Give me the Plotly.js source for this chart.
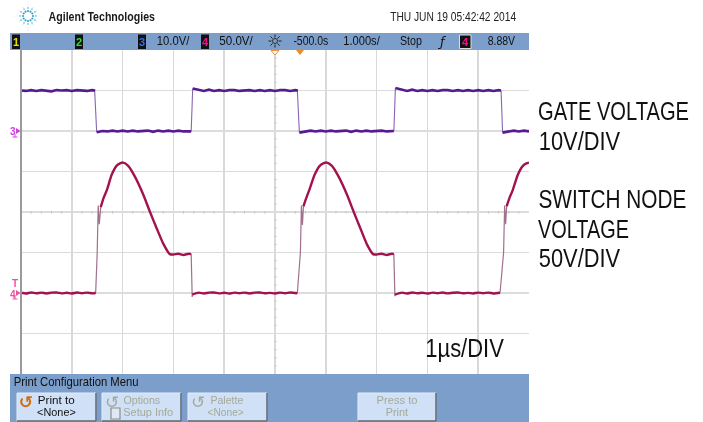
<!DOCTYPE html>
<html><head><meta charset="utf-8">
<script src="https://cdn.plot.ly/plotly-3.0.1.min.js"></script>
<style>html,body{margin:0;padding:0;background:#fff;overflow:hidden}#chart{filter:blur(.35px)}</style></head>
<body><div id="chart" style="width:703px;height:422px"></div>
<script>
// Time in microseconds, volts
const gateLevelTime = [0,.1,.2,.3,.4,.5,.6,.7,.8,.9,1,1.1,1.2,1.3,1.4,1.46,null,1.49,1.6,1.7,1.8,1.9,2,2.1,2.2,2.3,2.4,2.5,2.6,2.7,2.8,2.9,3,3.1,3.2,3.3,3.35,null,3.38,3.5,3.6,3.7,3.8,3.9,4,4.1,4.2,4.3,4.4,4.5,4.6,4.7,4.8,4.9,5,5.1,5.2,5.3,5.4,5.45,null,5.48,5.6,5.7,5.8,5.9,6,6.1,6.2,6.3,6.4,6.5,6.6,6.7,6.8,6.9,7,7.1,7.2,7.3,7.34,null,7.37,7.5,7.6,7.7,7.8,7.9,8,8.1,8.2,8.3,8.4,8.5,8.6,8.7,8.8,8.9,9,9.1,9.2,9.3,9.4,9.45,null,9.48,9.6,9.7,9.8,9.9,10];
const gateLevelVolts = [10,9.9,10.1,9.9,10.1,10,9.8,10.1,10,10.1,9.9,10.1,10,9.9,10.1,10,null,-0.3,0,-0.1,0.1,-0.1,0.1,-0.1,0.1,-0.1,0,0.1,-0.2,0.1,-0.1,0.1,-0.1,0.1,-0.1,0,-0.1,null,10.5,10.1,9.9,10.2,9.9,10.1,9.9,10.1,10.1,9.9,10,10.1,9.9,10.1,9.9,10.1,9.9,10.1,10.1,9.9,10.1,10,null,-0.4,-0.1,0.1,-0.1,0.1,-0.1,0.1,-0.1,0,0.1,-0.2,0.1,-0.1,0.1,-0.1,0,0.1,-0.1,0.1,0,null,10.6,10.1,9.9,10.2,9.9,10.1,9.9,10.1,9.9,10.1,10.1,9.9,10.1,9.9,10.1,9.9,10.1,9.9,10.1,9.9,10.1,10,null,-0.4,-0.1,0.1,-0.1,0.1,-0.1];
const gateEdgeTime = [1.45,1.49,null,3.35,3.38,null,5.44,5.48,null,7.34,7.37,null,9.45,9.48];
const gateEdgeVolts = [10,-0.3,null,-0.1,10.5,null,10,-0.4,null,0,10.6,null,10,-0.4];
const switchBodyTime = [0,.1,.2,.3,.4,.5,.6,.7,.8,.9,1,1.1,1.2,1.3,1.42,1.47,null,1.57,1.63,1.69,1.785,1.88,1.95,2.01,2.11,2.24,2.41,2.54,2.67,2.8,2.93,3,3.1,3.2,3.3,3.35,null,3.37,3.5,3.6,3.7,3.8,3.9,4,4.1,4.2,4.3,4.4,4.5,4.6,4.7,4.8,4.9,5,5.1,5.2,5.3,5.44,null,5.56,5.62,5.68,5.78,5.88,5.95,6.02,6.12,6.25,6.42,6.55,6.68,6.81,6.93,7,7.1,7.2,7.3,7.34,null,7.36,7.5,7.6,7.7,7.8,7.9,8,8.1,8.2,8.3,8.4,8.5,8.6,8.7,8.8,8.9,9,9.1,9.2,9.3,9.43,null,9.56,9.62,9.68,9.78,9.88,9.95,10];
const switchBodyVolts = [0.3,-0.6,0.7,-0.4,0.5,-0.6,0.4,0.6,-0.5,0.3,-0.7,0.6,-0.3,0.5,-0.5,0.3,null,106,118,127,146,157,160,161,157,144,121,100,80,61,48,47.5,48.5,47,48.5,48,null,-2,0.5,-0.6,0.4,0.6,-0.5,0.3,-0.7,0.5,-0.3,0.5,-0.6,0.4,0.6,-0.4,0.2,-0.6,0.5,-0.3,0.6,-0.3,null,107,118,128,146,157,160,161,157,144,121,100,80,60,48,47.5,48.5,47,48.5,48,null,-2,0.5,-0.6,0.6,-0.4,0.3,-0.7,0.5,-0.3,0.6,-0.5,0.3,0.6,-0.4,0.2,-0.6,0.5,-0.3,0.5,-0.6,0.3,null,107,118,127,146,157,160,161];
const switchEdgeTime = [1.47,1.5,1.52,1.54,1.57,null,3.35,3.37,null,5.44,5.5,5.52,5.54,5.56,null,7.34,7.36,null,9.43,9.5,9.52,9.54,9.56];
const switchEdgeVolts = [0.3,50,108,85,106,null,48,-5,null,-0.3,50,108,84,107,null,48,-4,null,0.3,50,108,85,107];
const headerChannels = ["1","2","3","4"];
const channelColours = ["#e8e000","#30e030","#3070f0","#f0108c"];

const W=703,H=422,L=21,R=529,T=50,B=374;
const X=p=>(p-L)/(R-L), Y=p=>(B-p)/(B-T);
const sans='"Liberation Sans", Arial, sans-serif';
const shapes=[], annotations=[], squeezed={};
function rect(x0,y0,x1,y1,fill,line,lw){shapes.push({type:'rect',xref:'paper',yref:'paper',x0:X(x0),x1:X(x1),y0:Y(y1),y1:Y(y0),fillcolor:fill,line:{color:line||fill,width:lw===undefined?0:lw},layer:'above'});}
function seg(x0,y0,x1,y1,c,w){shapes.push({type:'line',xref:'paper',yref:'paper',x0:X(x0),x1:X(x1),y0:Y(y0),y1:Y(y1),line:{color:c,width:w}});}
// text spanning pixels x0..x1: centred, then fitted to its width after drawing
function span(s,x0,x1,y,o){o=o||{};squeezed[s]=x1-x0;annotations.push({text:o.b?'<b>'+s+'</b>':s,xref:'paper',yref:'paper',x:X((x0+x1)/2),y:Y(y),showarrow:false,xanchor:'center',yanchor:'middle',align:'center',borderpad:0,font:{family:sans,size:o.s||12,color:o.c||'#111'}});}
function glyph(s,x,y,o){annotations.push({text:s,xref:'paper',yref:'paper',x:X(x),y:Y(y),showarrow:false,xanchor:'center',yanchor:'middle',borderpad:0,font:{family:o.f||sans,size:o.s||11,color:o.c}});}

rect(10,33,R,50,'#7b9ecb');
rect(10,374,R,422,'#7b9ecb');
seg(L,50,L,374,'#9a9a9a',2);
for(let i=1;i<50;i++) if(i%5) seg(L+i*10.16,211,L+i*10.16,213.5,'#c4c4c4',1);
for(let i=1;i<40;i++) if(i%5) seg(274,T+i*8.1,276.5,T+i*8.1,'#c4c4c4',1);

// logo
for(let k=0;k<12;k++){const a=k*Math.PI/6,long=k%3===0;
 for(const r of long?[5,8,11,14]:[5,8,10]){const d=(r<7?1.1:r<10?.9:.55);const x=28+r*Math.cos(a),y=16+r*Math.sin(a);
  shapes.push({type:'circle',xref:'paper',yref:'paper',x0:X(x-d),x1:X(x+d),y0:Y(y+d),y1:Y(y-d),fillcolor:r<7?'#3aa6cc':r<10?'#7cc6e0':'#bfe3ef',line:{width:0}});}}
span('Agilent Technologies',48.5,155,17,{b:1,s:12.5,c:'#1a1a1a'});
span('THU JUN 19 05:42:42 2014',390,516,17,{s:12.5,c:'#222'});

[12,75,138,201].forEach((x,i)=>{rect(x,34.5,x+8,49,'#111');glyph('<b>'+headerChannels[i]+'</b>',x+4,42,{s:11,c:channelColours[i]});});
span('10.0V/',157,190,41,{s:12.5});
span('50.0V/',219,253,41,{s:12.5});
span('-500.0s',293,328,41,{s:12.5});
span('1.000s/',343,380,41,{s:12.5});
span('Stop',400,422,41,{s:12.5});
glyph('<i>ƒ</i>',442,41,{s:13,c:'#111',f:'"DejaVu Sans"'});
rect(459.5,35,471,48.5,'#111','#ddd',1);
glyph('<b>4</b>',465.2,42,{s:11,c:channelColours[3]});
span('8.88V',487,515,41,{s:12.5});
for(let k=0;k<8;k++){const a=k*Math.PI/4;seg(275+3.5*Math.cos(a),41+3.5*Math.sin(a),275+6.5*Math.cos(a),41+6.5*Math.sin(a),'#222',1);}
shapes.push({type:'circle',xref:'paper',yref:'paper',x0:X(272.5),x1:X(277.5),y0:Y(43.5),y1:Y(38.5),line:{color:'#333',width:1}});
shapes.push({type:'path',xref:'paper',yref:'paper',path:`M${X(271)},${Y(50.5)} L${X(279)},${Y(50.5)} L${X(275)},${Y(55)} Z`,fillcolor:'#fff',line:{color:'#ee9040',width:1}});
shapes.push({type:'path',xref:'paper',yref:'paper',path:`M${X(296)},${Y(50)} L${X(304)},${Y(50)} L${X(300)},${Y(55)} Z`,fillcolor:'#ee8a20',line:{width:0}});

glyph('<b>3</b>',13,131,{s:10,c:'#d040e0'});
shapes.push({type:'path',xref:'paper',yref:'paper',path:`M${X(16)},${Y(128)} L${X(20.5)},${Y(131)} L${X(16)},${Y(134)} Z`,fillcolor:'#d040e0',line:{width:0}});
seg(15,134,15,137,'#d040e0',1);seg(12.5,137,17.5,137,'#d040e0',1);
glyph('<b>T</b>',15,283,{s:10,c:'#f050a0'});
glyph('<b>4</b>',13,294,{s:10,c:'#f050a0'});
shapes.push({type:'path',xref:'paper',yref:'paper',path:`M${X(16)},${Y(290)} L${X(20.5)},${Y(293)} L${X(16)},${Y(296)} Z`,fillcolor:'#f050a0',line:{width:0}});
seg(15,296,15,299,'#f050a0',1);seg(12.5,299,17.5,299,'#f050a0',1);

span('GATE VOLTAGE',538,689,111,{s:26});
span('10V/DIV',538,620,141,{s:26});
span('SWITCH NODE',538,686,199,{s:26});
span('VOLTAGE',538,629,229,{s:26});
span('50V/DIV',538,620,258,{s:26});
span('1µs/DIV',425,504,348,{s:26});

// menu
span('Print Configuration Menu',13,138,382,{s:12.5});
const off='#a5aa96';
[[17,96],[102,181],[188,267],[358,436]].forEach((b,i)=>{
 rect(b[0],393,b[1],421,'#cfe0f7','#e6eefb',1);
 seg(b[0],421,b[1],421,'#5b6470',1.5);seg(b[1],393,b[1],421,'#5b6470',1.5);
 if(i<3) glyph(i===0?'<b>↺</b>':'↺',b[0]+(i===0?9:10),402,{s:17,f:'"DejaVu Sans"',c:i===0?'#d86a00':off});
});
span('Print to',37,74,400,{s:11.5});
span('<None>',37,76,412,{s:11.5});
span('Options',123,160,400,{s:11.5,c:off});
span('Setup Info',123,173,412,{s:11.5,c:off});
span('Palette',210,243,400,{s:11.5,c:off});
span('<None> ',207,246,412,{s:11.5,c:off});
span('Press to',376,417,400,{s:11.5,c:off});
span('Print',385,408,412,{s:11.5,c:off});
rect(111,408,120,419,'#dfe8f5','#8a8f86',1.2);

const data=[
 {x:gateEdgeTime,y:gateEdgeVolts,name:'Gate edges',mode:'lines',type:'scatter',yaxis:'y',line:{color:'#8b63b4',width:1.1},connectgaps:false},
 {x:gateLevelTime,y:gateLevelVolts,name:'Gate voltage',mode:'lines',type:'scatter',yaxis:'y',line:{color:'#561a92',width:2.6},connectgaps:false},
 {x:switchEdgeTime,y:switchEdgeVolts,name:'Switch edges',mode:'lines',type:'scatter',yaxis:'y2',line:{color:'#a0708c',width:1.2},connectgaps:false},
 {x:switchBodyTime,y:switchBodyVolts,name:'Switch node voltage',mode:'lines',type:'scatter',yaxis:'y2',line:{color:'#a3114f',width:2.4,shape:'spline',smoothing:0.6},connectgaps:false}
];
const layout={width:W,height:H,autosize:false,showlegend:false,paper_bgcolor:'#fff',plot_bgcolor:'#fff',
 margin:{l:L,r:W-R,t:T,b:H-B,pad:0},
 xaxis:{range:[0,10],dtick:1,tick0:0,showgrid:true,gridcolor:'#d9d9d9',gridwidth:1.5,zeroline:false,showticklabels:false,ticks:'',fixedrange:true},
 yaxis:{range:[-60,20],dtick:10,tick0:0,showgrid:true,gridcolor:'#dcdcdc',gridwidth:1.5,zeroline:false,showticklabels:false,ticks:'',fixedrange:true},
 yaxis2:{range:[-100,300],overlaying:'y',side:'left',showgrid:false,zeroline:false,showticklabels:false,ticks:'',fixedrange:true},
 shapes,annotations};
Plotly.newPlot('chart',data,layout,{displayModeBar:false,staticPlot:true}).then(()=>{
 document.querySelectorAll('.annotation-text').forEach(t=>{const w=squeezed[t.textContent];
  if(!w) return;
  const b=t.getBBox(), cx=b.x+b.width/2, sx=w/b.width;
  t.setAttribute('transform',`translate(${cx},0) scale(${sx},1) translate(${-cx},0)`);
 });
});
</script></body></html>
